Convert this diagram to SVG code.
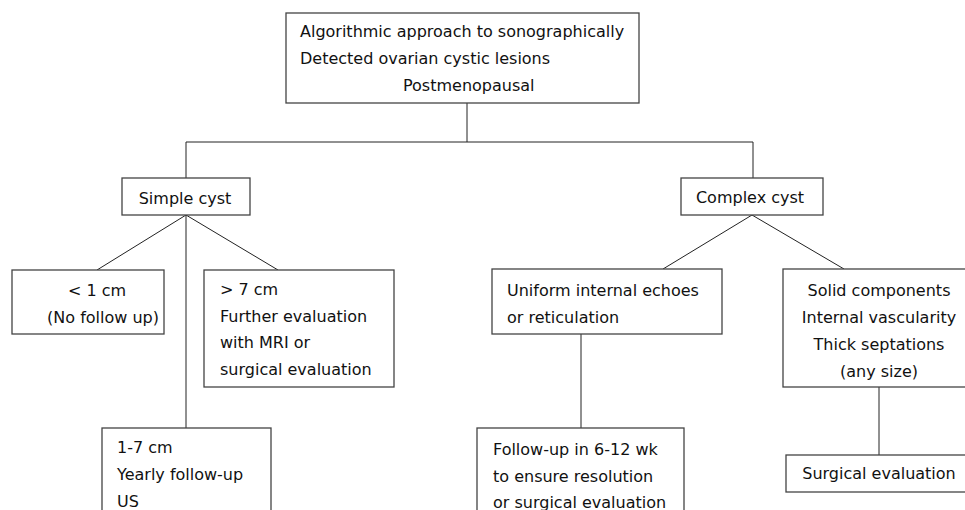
<svg xmlns="http://www.w3.org/2000/svg" width="965" height="510" viewBox="0 0 965 510">
<style>
.box{fill:#fff;stroke:#444;stroke-width:1.3}
.t{font-family:"DejaVu Sans",Verdana,sans-serif;font-size:16px;fill:#111}
.c{text-anchor:middle}
.ln{stroke:#222;stroke-width:1;fill:none}
</style>
<rect width="965" height="510" fill="#fff"/>
<g id="connectors">
<polyline class="ln" points="467,103 467,142"/>
<polyline class="ln" points="186,178 186,142 753,142 753,178"/>
<line class="ln" x1="186" y1="215" x2="97" y2="270"/>
<line class="ln" x1="186" y1="215" x2="278" y2="270"/>
<line class="ln" x1="186" y1="215" x2="186" y2="428"/>
<line class="ln" x1="752" y1="215" x2="663" y2="269"/>
<line class="ln" x1="752" y1="215" x2="844" y2="269"/>
<line class="ln" x1="581" y1="334" x2="581" y2="428"/>
<line class="ln" x1="879" y1="387" x2="879" y2="455"/>
</g>
<g id="root">
<rect class="box" x="286" y="13" width="353" height="90"/>
<text class="t" x="300" y="37">Algorithmic approach to sonographically</text>
<text class="t" x="300" y="64">Detected ovarian cystic lesions</text>
<text class="t" x="403" y="91">Postmenopausal</text>
</g>
<g id="simple">
<rect class="box" x="122" y="178" width="128" height="37"/>
<text class="t c" x="185" y="204">Simple cyst</text>
</g>
<g id="complex">
<rect class="box" x="681" y="178" width="142" height="37"/>
<text class="t c" x="750" y="203">Complex cyst</text>
</g>
<g id="lt1">
<rect class="box" x="12" y="270" width="152" height="64"/>
<text class="t c" x="97" y="296">&lt; 1 cm</text>
<text class="t c" x="103" y="323">(No follow up)</text>
</g>
<g id="gt7">
<rect class="box" x="204" y="270" width="190" height="117"/>
<text class="t" x="220" y="295">&gt; 7 cm</text>
<text class="t" x="220" y="322">Further evaluation</text>
<text class="t" x="220" y="348">with MRI or</text>
<text class="t" x="220" y="375">surgical evaluation</text>
</g>
<g id="mid">
<rect class="box" x="102" y="428" width="169" height="100"/>
<text class="t" x="117" y="453">1-7 cm</text>
<text class="t" x="117" y="480">Yearly follow-up</text>
<text class="t" x="117" y="507">US</text>
</g>
<g id="uniform">
<rect class="box" x="492" y="269" width="230" height="65"/>
<text class="t" x="507" y="296">Uniform internal echoes</text>
<text class="t" x="507" y="323">or reticulation</text>
</g>
<g id="followup">
<rect class="box" x="477" y="428" width="207" height="100"/>
<text class="t" x="493" y="455">Follow-up in 6-12 wk</text>
<text class="t" x="493" y="482">to ensure resolution</text>
<text class="t" x="493" y="508">or surgical evaluation</text>
</g>
<g id="solid">
<rect class="box" x="783" y="269" width="200" height="118"/>
<text class="t c" x="879" y="296">Solid components</text>
<text class="t c" x="879" y="323">Internal vascularity</text>
<text class="t c" x="879" y="350">Thick septations</text>
<text class="t c" x="879" y="377">(any size)</text>
</g>
<g id="surgical">
<rect class="box" x="786" y="455" width="200" height="37"/>
<text class="t c" x="879" y="479">Surgical evaluation</text>
</g>
</svg>
